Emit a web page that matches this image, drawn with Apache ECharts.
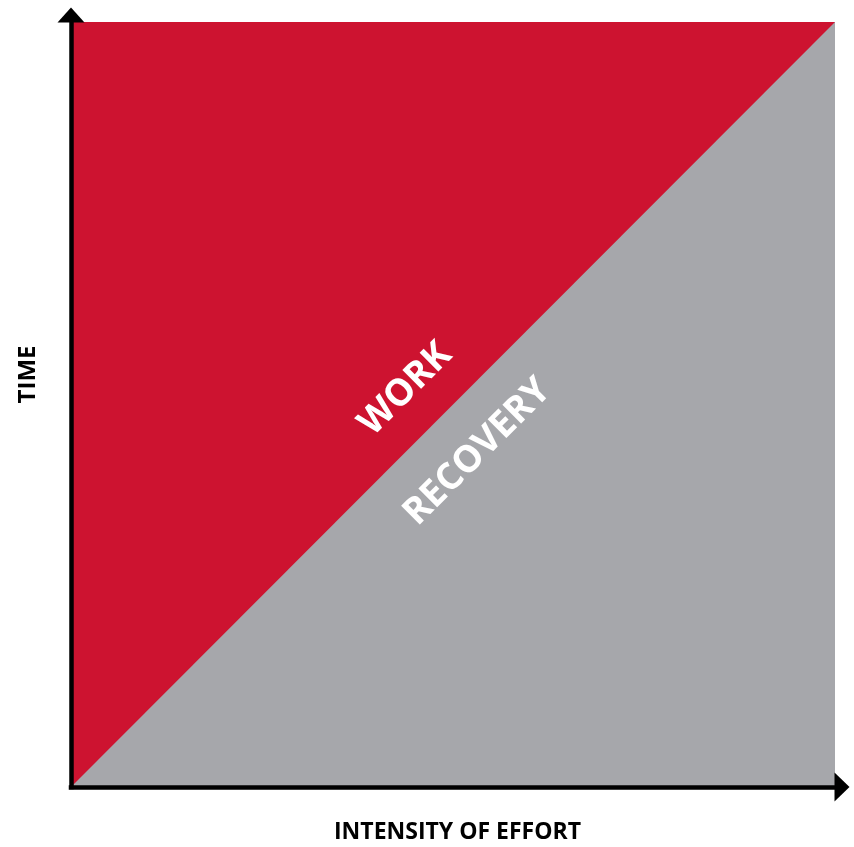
<!DOCTYPE html>
<html>
<head>
<meta charset="utf-8">
<script src="https://cdn.jsdelivr.net/npm/echarts@6/dist/echarts.min.js"></script>
<style>
  html, body { margin: 0; padding: 0; background: #fff; }
  #chart { width: 854px; height: 847px; }
</style>
</head>
<body>
<div id="chart"></div>
<script>
// effort runs along x, time along y, both on a 0..100 scale
const intensity = [0, 100];
const workTop = [100, 100];
const recoveryEdge = [0, 100];

const zoneNames = ['WORK', 'RECOVERY'];
const zoneX = [43.8, 53.2];
const zoneY = [52.0, 43.8];

const RED = '#cd1330';
const GREY = '#a6a7ab';
const FONT = '"Open Sans", "Noto Sans", sans-serif';

function pairs(xs, ys) {
  return xs.map((x, i) => [x, ys[i]]);
}

function axisLine(arrowSize) {
  return {
    show: true,
    symbol: ['none', 'triangle'],
    symbolSize: arrowSize,
    symbolOffset: [0, 7],
    lineStyle: {color: '#000', width: 4.5, cap: 'square'}
  };
}

const chart = echarts.init(document.getElementById('chart'));

chart.setOption({
  animation: false,
  grid: {left: 71, right: 19, top: 22, bottom: 60, outerBoundsMode: 'none', containLabel: false},
  xAxis: {
    type: 'value',
    min: 0,
    max: 100,
    z: 5,
    name: 'INTENSITY OF EFFORT',
    nameLocation: 'middle',
    nameGap: 34,
    nameTextStyle: {
      fontFamily: FONT, fontWeight: 'bold', fontSize: 23, color: '#000',
      padding: [0, 0, 0, 9]
    },
    axisLine: axisLine([29, 15]),
    axisTick: {show: false},
    axisLabel: {show: false},
    splitLine: {show: false}
  },
  yAxis: {
    type: 'value',
    min: 0,
    max: 100,
    z: 5,
    name: 'TIME',
    nameLocation: 'middle',
    nameRotate: 90,
    nameGap: 31,
    nameTextStyle: {
      fontFamily: FONT, fontWeight: 'bold', fontSize: 24, color: '#000',
      padding: [0, 0, 0, 60]
    },
    axisLine: axisLine([27, 15]),
    axisTick: {show: false},
    axisLabel: {show: false},
    splitLine: {show: false}
  },
  series: [
    {
      name: 'WORK',
      type: 'line',
      data: pairs(intensity, workTop),
      symbol: 'none',
      lineStyle: {width: 0},
      areaStyle: {color: RED, opacity: 1}
    },
    {
      name: 'RECOVERY',
      type: 'line',
      data: pairs(intensity, recoveryEdge),
      symbol: 'none',
      lineStyle: {width: 0},
      areaStyle: {color: GREY, opacity: 1}
    },
    {
      type: 'scatter',
      symbolSize: 0,
      z: 4,
      itemStyle: {color: '#fff', opacity: 1},
      data: zoneNames.map((name, i) => ({name, value: [zoneX[i], zoneY[i]]})),
      label: {
        show: true,
        position: 'inside',
        rotate: 45,
        formatter: '{b}',
        color: '#fff',
        opacity: 1,
        textBorderWidth: 0,
        fontFamily: FONT,
        fontWeight: 'bold',
        fontSize: 37
      }
    }
  ]
});
</script>
</body>
</html>
